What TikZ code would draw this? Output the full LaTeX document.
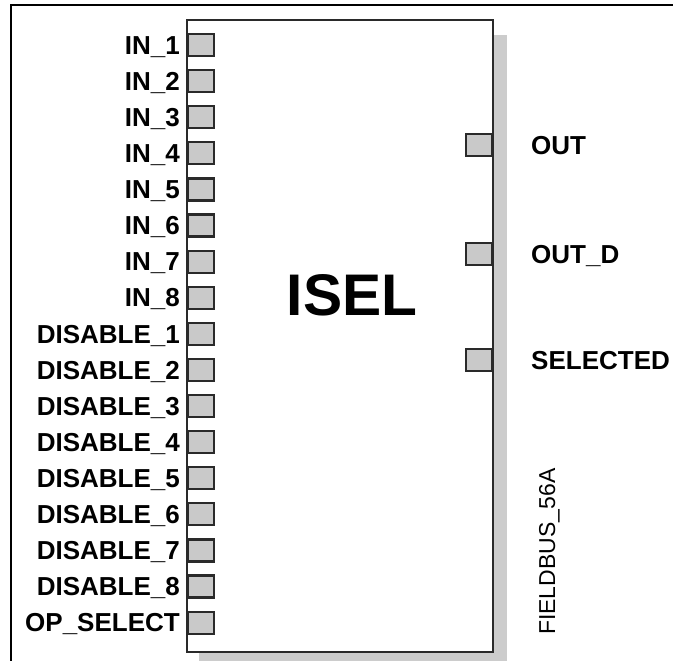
\documentclass[tikz,border=0pt]{standalone}
\usepackage{fontspec}
\setmainfont{Liberation Sans}
\usetikzlibrary{positioning, calc}

\definecolor{portgray}{HTML}{C9C9C9}
\definecolor{shadowgray}{HTML}{CCCCCC}
\definecolor{linedark}{HTML}{2A2A2A}

\tikzset{
  port/.style={draw=linedark, fill=portgray, line width=2.2pt,
    minimum width=26pt, minimum height=22pt, inner sep=0pt},
  pinlabel/.style={inner sep=0pt, text height=18.4pt, text depth=0pt,
    font=\fontsize{26}{28}\selectfont\bfseries},
}

\begin{document}
\begin{tikzpicture}[x=1pt,y=-1pt]
  \useasboundingbox (0,0) rectangle (673,661);

  % Outer frame (cut by the page at right and bottom)
  \draw[line width=2.4pt] (11,661) -- (11,5) -- (673,5);

  % Block with drop shadow
  \coordinate (NW) at (187,20);
  \coordinate (SE) at (493,652);
  \fill[shadowgray] ($(NW)+(12,15)$) rectangle ($(SE)+(14,14)$);
  \draw[fill=white, draw=linedark, line width=2.8pt] (NW) rectangle (SE);

  % Block name
  \node[anchor=base, inner sep=0pt, font=\fontsize{58.7}{60}\selectfont\bfseries]
    (name) at (352,315) {ISEL};

  % Input ports
  \foreach \lbl [count=\i from 0] in {IN\_1, IN\_2, IN\_3, IN\_4, IN\_5, IN\_6,
      IN\_7, IN\_8, DISABLE\_1, DISABLE\_2, DISABLE\_3, DISABLE\_4, DISABLE\_5,
      DISABLE\_6, DISABLE\_7, DISABLE\_8, OP\_SELECT} {
    \node[port, anchor=west] (in\i) at (187,{45+36.1*\i}) {};
    \node[pinlabel, left=7pt of in\i] (inlbl\i) {\lbl};
  }

  % Output ports
  \node[port, anchor=east] (out) at (493,145) {};
  \node[port, anchor=east] (outd) at (493,254) {};
  \node[port, anchor=east] (sel) at (493,360) {};
  \node[pinlabel, right=38pt of out] (outlbl) {OUT};
  \node[pinlabel, right=38pt of outd] (outdlbl) {OUT\_D};
  \node[pinlabel, right=38pt of sel] (sellbl) {SELECTED};

  % Drawing tag
  \node[rotate=90, anchor=base west, inner sep=0pt,
    font=\fontsize{23}{25}\selectfont] (tag) at (555,635) {FIELDBUS\_56A};
\end{tikzpicture}
\end{document}
